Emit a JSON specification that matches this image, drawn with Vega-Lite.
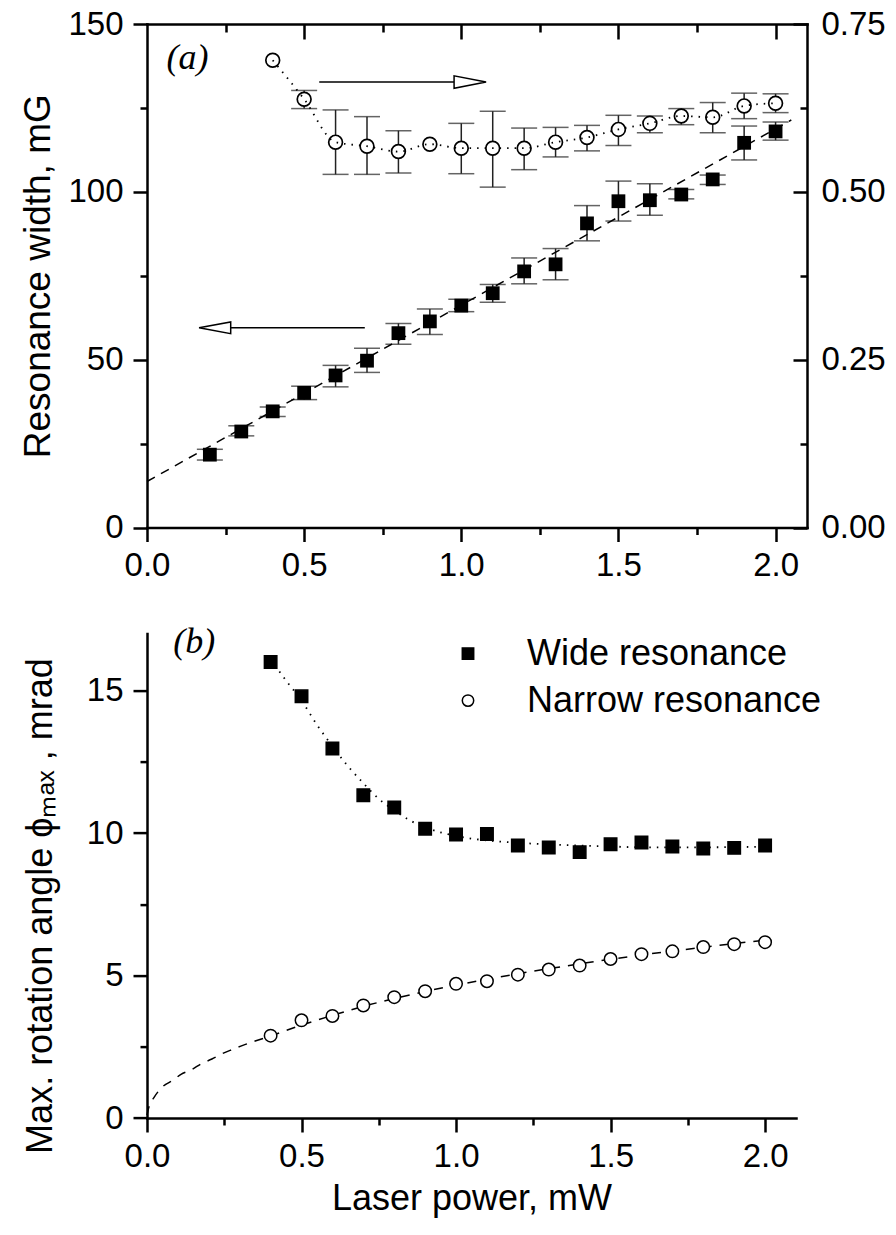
{
  "$schema": "https://vega.github.io/schema/vega-lite/v6.json",
  "padding": {"left": 19, "top": 8, "right": 5, "bottom": 5},
  "bounds": "flush",
  "spacing": 105.6,
  "resolve": {"scale": {"shape": "independent", "fill": "independent", "stroke": "independent"}, "legend": {"shape": "independent", "fill": "independent", "stroke": "independent"}},
  "config": {
    "font": "Liberation Sans",
    "view": {"stroke": null},
    "axis": {
      "grid": false, "domainColor": "black", "domainWidth": 2.5, "domainCap": "square",
      "tickColor": "black", "tickWidth": 2.5,
      "labelFont": "Liberation Sans", "labelFontSize": 33, "labelColor": "black",
      "labelFlush": false, "labelOverlap": false,
      "titleFont": "Liberation Sans", "titleFontSize": 36, "titleFontWeight": "normal", "titleColor": "black"
    }
  },
  "datasets": {
    "wide": [
      {"x": 0.2, "y": 21.7, "lo": 20.1, "hi": 23.3},
      {"x": 0.3, "y": 28.6, "lo": 27.3, "hi": 30.3},
      {"x": 0.4, "y": 34.6, "lo": 33.1, "hi": 35.9},
      {"x": 0.5, "y": 40.1, "lo": 38.1, "hi": 42.1},
      {"x": 0.6, "y": 45.3, "lo": 41.9, "hi": 48.3},
      {"x": 0.7, "y": 49.7, "lo": 46.2, "hi": 53.4},
      {"x": 0.8, "y": 57.9, "lo": 54.6, "hi": 60.8},
      {"x": 0.9, "y": 61.4, "lo": 57.5, "hi": 65.1},
      {"x": 1.0, "y": 66.1, "lo": 64.3, "hi": 68.0},
      {"x": 1.1, "y": 69.8, "lo": 67.1, "hi": 72.4},
      {"x": 1.2, "y": 76.3, "lo": 72.6, "hi": 80.3},
      {"x": 1.3, "y": 78.4, "lo": 73.8, "hi": 83.1},
      {"x": 1.4, "y": 90.6, "lo": 85.4, "hi": 95.9},
      {"x": 1.5, "y": 97.2, "lo": 91.3, "hi": 103.2},
      {"x": 1.6, "y": 97.5, "lo": 93.0, "hi": 102.4},
      {"x": 1.7, "y": 99.2, "lo": 97.9, "hi": 100.7},
      {"x": 1.8, "y": 103.7, "lo": 102.2, "hi": 105.0},
      {"x": 1.9, "y": 114.6, "lo": 109.5, "hi": 119.6},
      {"x": 2.0, "y": 118.0, "lo": 115.4, "hi": 120.8}
    ],
    "narrow": [
      {"x": 0.4, "y": 0.696, "lo": null, "hi": null},
      {"x": 0.5, "y": 0.638, "lo": 0.624, "hi": 0.651},
      {"x": 0.6, "y": 0.574, "lo": 0.526, "hi": 0.622},
      {"x": 0.7, "y": 0.568, "lo": 0.526, "hi": 0.612},
      {"x": 0.8, "y": 0.560, "lo": 0.528, "hi": 0.591},
      {"x": 0.9, "y": 0.571, "lo": null, "hi": null},
      {"x": 1.0, "y": 0.565, "lo": 0.527, "hi": 0.602},
      {"x": 1.1, "y": 0.565, "lo": 0.507, "hi": 0.620},
      {"x": 1.2, "y": 0.565, "lo": 0.533, "hi": 0.595},
      {"x": 1.3, "y": 0.574, "lo": 0.552, "hi": 0.596},
      {"x": 1.4, "y": 0.581, "lo": 0.561, "hi": 0.599},
      {"x": 1.5, "y": 0.593, "lo": 0.569, "hi": 0.614},
      {"x": 1.6, "y": 0.602, "lo": 0.588, "hi": 0.613},
      {"x": 1.7, "y": 0.613, "lo": 0.600, "hi": 0.624},
      {"x": 1.8, "y": 0.611, "lo": 0.588, "hi": 0.633},
      {"x": 1.9, "y": 0.628, "lo": 0.609, "hi": 0.647},
      {"x": 2.0, "y": 0.632, "lo": 0.618, "hi": 0.646}
    ],
    "fitA": [{"x": 0, "y": 13.7}, {"x": 2.05, "y": 121.4}],
    "arrows": [
      {"x": 0.548, "x2": 0.977, "y": 132.7},
      {"x": 0.266, "x2": 0.693, "y": 59.5}
    ],
    "headR": [{"x": 1.028, "y": 132.7}],
    "headL": [{"x": 0.216, "y": 59.5}],
    "labA": [{"x": 0.129, "y": 140, "t": "(a)"}],
    "labB": [{"x": 0.153, "y": 16.69, "t": "(b)"}],
    "pts2": [
      {"x": 0.4, "y": 16.0, "series": "Wide resonance"},
      {"x": 0.5, "y": 14.8, "series": "Wide resonance"},
      {"x": 0.6, "y": 12.97, "series": "Wide resonance"},
      {"x": 0.7, "y": 11.33, "series": "Wide resonance"},
      {"x": 0.8, "y": 10.9, "series": "Wide resonance"},
      {"x": 0.9, "y": 10.15, "series": "Wide resonance"},
      {"x": 1.0, "y": 9.95, "series": "Wide resonance"},
      {"x": 1.1, "y": 9.97, "series": "Wide resonance"},
      {"x": 1.2, "y": 9.56, "series": "Wide resonance"},
      {"x": 1.3, "y": 9.49, "series": "Wide resonance"},
      {"x": 1.4, "y": 9.33, "series": "Wide resonance"},
      {"x": 1.5, "y": 9.61, "series": "Wide resonance"},
      {"x": 1.6, "y": 9.67, "series": "Wide resonance"},
      {"x": 1.7, "y": 9.53, "series": "Wide resonance"},
      {"x": 1.8, "y": 9.46, "series": "Wide resonance"},
      {"x": 1.9, "y": 9.48, "series": "Wide resonance"},
      {"x": 2.0, "y": 9.56, "series": "Wide resonance"},
      {"x": 0.4, "y": 2.89, "series": "Narrow resonance"},
      {"x": 0.5, "y": 3.43, "series": "Narrow resonance"},
      {"x": 0.6, "y": 3.58, "series": "Narrow resonance"},
      {"x": 0.7, "y": 3.95, "series": "Narrow resonance"},
      {"x": 0.8, "y": 4.24, "series": "Narrow resonance"},
      {"x": 0.9, "y": 4.45, "series": "Narrow resonance"},
      {"x": 1.0, "y": 4.71, "series": "Narrow resonance"},
      {"x": 1.1, "y": 4.80, "series": "Narrow resonance"},
      {"x": 1.2, "y": 5.03, "series": "Narrow resonance"},
      {"x": 1.3, "y": 5.21, "series": "Narrow resonance"},
      {"x": 1.4, "y": 5.35, "series": "Narrow resonance"},
      {"x": 1.5, "y": 5.58, "series": "Narrow resonance"},
      {"x": 1.6, "y": 5.75, "series": "Narrow resonance"},
      {"x": 1.7, "y": 5.85, "series": "Narrow resonance"},
      {"x": 1.8, "y": 6.0, "series": "Narrow resonance"},
      {"x": 1.9, "y": 6.1, "series": "Narrow resonance"},
      {"x": 2.0, "y": 6.17, "series": "Narrow resonance"}
    ],
    "fitBwide": [
      {"x": 0.4, "y": 16.1}, {"x": 0.45, "y": 15.35}, {"x": 0.5, "y": 14.65}, {"x": 0.55, "y": 13.8},
      {"x": 0.6, "y": 13.05}, {"x": 0.65, "y": 12.35}, {"x": 0.7, "y": 11.75}, {"x": 0.75, "y": 11.2},
      {"x": 0.8, "y": 10.8}, {"x": 0.85, "y": 10.45}, {"x": 0.9, "y": 10.2}, {"x": 1.0, "y": 9.9},
      {"x": 1.1, "y": 9.74}, {"x": 1.2, "y": 9.66}, {"x": 1.3, "y": 9.6}, {"x": 1.4, "y": 9.56},
      {"x": 1.5, "y": 9.53}, {"x": 1.6, "y": 9.5}, {"x": 1.8, "y": 9.5}, {"x": 2.0, "y": 9.52}
    ],
    "fitBnarrow": [
      {"x": 0.0, "y": 0.1}, {"x": 0.005, "y": 0.34}, {"x": 0.024, "y": 0.74}, {"x": 0.05, "y": 1.09},
      {"x": 0.083, "y": 1.32}, {"x": 0.11, "y": 1.53}, {"x": 0.145, "y": 1.7}, {"x": 0.175, "y": 1.9},
      {"x": 0.21, "y": 2.07}, {"x": 0.24, "y": 2.24}, {"x": 0.28, "y": 2.42}, {"x": 0.31, "y": 2.55},
      {"x": 0.35, "y": 2.7}, {"x": 0.4, "y": 2.88}, {"x": 0.5, "y": 3.26}, {"x": 0.6, "y": 3.6},
      {"x": 0.7, "y": 3.92}, {"x": 0.8, "y": 4.19}, {"x": 0.9, "y": 4.44}, {"x": 1.0, "y": 4.66},
      {"x": 1.1, "y": 4.87}, {"x": 1.2, "y": 5.06}, {"x": 1.3, "y": 5.24}, {"x": 1.4, "y": 5.41},
      {"x": 1.5, "y": 5.57}, {"x": 1.6, "y": 5.72}, {"x": 1.7, "y": 5.86}, {"x": 1.8, "y": 5.99},
      {"x": 1.9, "y": 6.12}, {"x": 2.0, "y": 6.24}
    ]
  },
  "vconcat": [
    {
      "width": 660,
      "height": 503.5,
      "resolve": {"scale": {"y": "independent"}, "axis": {"x": "independent", "y": "independent"}},
      "layer": [
        {
          "data": {"name": "wide"},
          "mark": {"type": "rule", "color": "#222", "strokeWidth": 1.5},
          "encoding": {
            "x": {"field": "x", "type": "quantitative", "scale": {"domain": [0, 2.1], "nice": false, "zero": false},
                  "axis": {"orient": "bottom", "values": [0, 0.5, 1, 1.5, 2], "format": ".1f", "tickSize": 14, "labelPadding": 8, "title": null}},
            "y": {"field": "lo", "type": "quantitative", "scale": {"domain": [0, 150], "nice": false, "zero": false},
                  "axis": {"orient": "left", "values": [0, 50, 100, 150], "tickSize": 14, "labelPadding": 10, "title": "Resonance width, mG", "titlePadding": 10, "titleFontSize": 37}},
            "y2": {"field": "hi"}
          }
        },
        {
          "data": {"name": "wide"},
          "mark": {"type": "tick", "orient": "horizontal", "size": 26, "thickness": 1.5, "color": "#222"},
          "encoding": {
            "x": {"field": "x", "type": "quantitative", "scale": {"domain": [0, 2.1], "nice": false, "zero": false},
                  "axis": {"orient": "bottom", "values": [0.25, 0.75, 1.25, 1.75], "tickSize": 7, "labels": false, "domain": false, "title": null}},
            "y": {"field": "lo", "type": "quantitative", "scale": {"domain": [0, 150], "nice": false, "zero": false},
                  "axis": {"orient": "left", "values": [25, 75, 125], "tickSize": 7, "labels": false, "domain": false, "title": null}}
          }
        },
        {
          "data": {"name": "wide"},
          "mark": {"type": "tick", "orient": "horizontal", "size": 26, "thickness": 1.5, "color": "#222"},
          "encoding": {
            "x": {"field": "x", "type": "quantitative", "scale": {"domain": [0, 2.1], "nice": false, "zero": false},
                  "axis": {"orient": "top", "values": [0.5, 1, 1.5, 2], "tickSize": -15, "labels": false, "domain": true, "title": null}},
            "y": {"field": "hi", "type": "quantitative", "scale": {"domain": [0, 150], "nice": false, "zero": false}, "axis": null}
          }
        },
        {
          "data": {"name": "narrow"},
          "transform": [{"filter": "datum.lo != null"}],
          "mark": {"type": "rule", "color": "#222", "strokeWidth": 1.5},
          "encoding": {
            "x": {"field": "x", "type": "quantitative", "scale": {"domain": [0, 2.1], "nice": false, "zero": false},
                  "axis": {"orient": "top", "values": [0.25, 0.75, 1.25, 1.75], "tickSize": -8, "labels": false, "domain": false, "title": null}},
            "y": {"field": "lo", "type": "quantitative", "scale": {"domain": [0, 0.75], "nice": false, "zero": false},
                  "axis": {"orient": "right", "values": [0, 0.25, 0.5, 0.75], "format": ".2f", "tickSize": -14, "labelPadding": 28, "title": null}},
            "y2": {"field": "hi"}
          }
        },
        {
          "data": {"name": "narrow"},
          "transform": [{"filter": "datum.lo != null"}],
          "mark": {"type": "tick", "orient": "horizontal", "size": 26, "thickness": 1.5, "color": "#222"},
          "encoding": {
            "x": {"field": "x", "type": "quantitative", "scale": {"domain": [0, 2.1], "nice": false, "zero": false}, "axis": null},
            "y": {"field": "lo", "type": "quantitative", "scale": {"domain": [0, 0.75], "nice": false, "zero": false},
                  "axis": {"orient": "right", "values": [0.125, 0.375, 0.625], "tickSize": -7, "labels": false, "domain": false, "title": null}}
          }
        },
        {
          "data": {"name": "narrow"},
          "transform": [{"filter": "datum.hi != null"}],
          "mark": {"type": "tick", "orient": "horizontal", "size": 26, "thickness": 1.5, "color": "#222"},
          "encoding": {
            "x": {"field": "x", "type": "quantitative", "scale": {"domain": [0, 2.1], "nice": false, "zero": false}, "axis": null},
            "y": {"field": "hi", "type": "quantitative", "scale": {"domain": [0, 0.75], "nice": false, "zero": false}, "axis": null}
          }
        },
        {
          "data": {"name": "fitA"},
          "mark": {"type": "line", "color": "black", "strokeWidth": 1.5, "strokeDash": [9, 7]},
          "encoding": {
            "x": {"field": "x", "type": "quantitative", "scale": {"domain": [0, 2.1], "nice": false, "zero": false}, "axis": null},
            "y": {"field": "y", "type": "quantitative", "scale": {"domain": [0, 150], "nice": false, "zero": false}, "axis": null}
          }
        },
        {
          "data": {"name": "wide"},
          "mark": {"type": "square", "color": "black", "size": 190, "opacity": 1},
          "encoding": {
            "x": {"field": "x", "type": "quantitative", "scale": {"domain": [0, 2.1], "nice": false, "zero": false}, "axis": null},
            "y": {"field": "y", "type": "quantitative", "scale": {"domain": [0, 150], "nice": false, "zero": false}, "axis": null}
          }
        },
        {
          "data": {"name": "narrow"},
          "mark": {"type": "point", "shape": "circle", "filled": true, "fill": "white", "stroke": "black", "strokeWidth": 1.7, "size": 190, "opacity": 1},
          "encoding": {
            "x": {"field": "x", "type": "quantitative", "scale": {"domain": [0, 2.1], "nice": false, "zero": false}, "axis": null},
            "y": {"field": "y", "type": "quantitative", "scale": {"domain": [0, 0.75], "nice": false, "zero": false}, "axis": null}
          }
        },
        {
          "data": {"name": "narrow"},
          "mark": {"type": "line", "color": "black", "strokeWidth": 1.8, "strokeDash": [1.5, 6], "interpolate": "monotone"},
          "encoding": {
            "x": {"field": "x", "type": "quantitative", "scale": {"domain": [0, 2.1], "nice": false, "zero": false}, "axis": null},
            "y": {"field": "y", "type": "quantitative", "scale": {"domain": [0, 0.75], "nice": false, "zero": false}, "axis": null}
          }
        },
        {
          "data": {"name": "arrows"},
          "mark": {"type": "rule", "color": "black", "strokeWidth": 1.6},
          "encoding": {
            "x": {"field": "x", "type": "quantitative", "scale": {"domain": [0, 2.1], "nice": false, "zero": false}, "axis": null},
            "x2": {"field": "x2"},
            "y": {"field": "y", "type": "quantitative", "scale": {"domain": [0, 150], "nice": false, "zero": false}, "axis": null}
          }
        },
        {
          "data": {"name": "headR"},
          "mark": {"type": "point", "shape": "M1,0L-1,-0.39L-1,0.39Z", "filled": true, "fill": "white", "stroke": "black", "strokeWidth": 1.5, "size": 1024, "opacity": 1},
          "encoding": {
            "x": {"field": "x", "type": "quantitative", "scale": {"domain": [0, 2.1], "nice": false, "zero": false}, "axis": null},
            "y": {"field": "y", "type": "quantitative", "scale": {"domain": [0, 150], "nice": false, "zero": false}, "axis": null}
          }
        },
        {
          "data": {"name": "headL"},
          "mark": {"type": "point", "shape": "M-1,0L1,-0.37L1,0.37Z", "filled": true, "fill": "white", "stroke": "black", "strokeWidth": 1.5, "size": 1000, "opacity": 1},
          "encoding": {
            "x": {"field": "x", "type": "quantitative", "scale": {"domain": [0, 2.1], "nice": false, "zero": false}, "axis": null},
            "y": {"field": "y", "type": "quantitative", "scale": {"domain": [0, 150], "nice": false, "zero": false}, "axis": null}
          }
        },
        {
          "data": {"name": "labA"},
          "mark": {"type": "text", "font": "Liberation Serif", "fontStyle": "italic", "fontSize": 36, "color": "black", "align": "center", "baseline": "middle"},
          "encoding": {
            "x": {"field": "x", "type": "quantitative", "scale": {"domain": [0, 2.1], "nice": false, "zero": false}, "axis": null},
            "y": {"field": "y", "type": "quantitative", "scale": {"domain": [0, 150], "nice": false, "zero": false}, "axis": null},
            "text": {"field": "t"}
          }
        }
      ]
    },
    {
      "width": 649,
      "height": 484.4,
      "resolve": {"axis": {"x": "independent", "y": "independent"}},
      "layer": [
        {
          "data": {"name": "fitBwide"},
          "mark": {"type": "line", "color": "black", "strokeWidth": 1.8, "strokeDash": [1.5, 6], "interpolate": "monotone"},
          "encoding": {
            "x": {"field": "x", "type": "quantitative", "scale": {"domain": [0, 2.1], "nice": false, "zero": false},
                  "axis": {"orient": "bottom", "values": [0, 0.5, 1, 1.5, 2], "format": ".1f", "tickSize": 14, "labelPadding": 8, "title": "Laser power, mW", "titlePadding": 8}},
            "y": {"field": "y", "type": "quantitative", "scale": {"domain": [0, 17], "nice": false, "zero": false},
                  "axis": {"orient": "left", "values": [0, 5, 10, 15], "tickSize": 14, "labelPadding": 10, "title": "Max. rotation angle ϕₘₐₓ , mrad", "titlePadding": 27, "titleY": 272}}
          }
        },
        {
          "data": {"name": "fitBnarrow"},
          "mark": {"type": "line", "color": "black", "strokeWidth": 1.5, "strokeDash": [9, 8], "interpolate": "monotone"},
          "encoding": {
            "x": {"field": "x", "type": "quantitative", "scale": {"domain": [0, 2.1], "nice": false, "zero": false},
                  "axis": {"orient": "bottom", "values": [0.25, 0.75, 1.25, 1.75], "tickSize": 7, "labels": false, "domain": false, "title": null}},
            "y": {"field": "y", "type": "quantitative", "scale": {"domain": [0, 17], "nice": false, "zero": false},
                  "axis": {"orient": "left", "values": [2.5, 7.5, 12.5], "tickSize": 7, "labels": false, "domain": false, "title": null}}
          }
        },
        {
          "data": {"name": "pts2"},
          "mark": {"type": "point", "filled": true, "strokeWidth": 1.5, "size": 155, "opacity": 1},
          "encoding": {
            "x": {"field": "x", "type": "quantitative", "scale": {"domain": [0, 2.1], "nice": false, "zero": false}, "axis": null},
            "y": {"field": "y", "type": "quantitative", "scale": {"domain": [0, 17], "nice": false, "zero": false}, "axis": null},
            "shape": {"field": "series", "type": "nominal", "scale": {"domain": ["Wide resonance", "Narrow resonance"], "range": ["square", "circle"]},
                      "legend": {"title": null, "orient": "none", "legendX": 303, "legendY": 2, "padding": 0, "labelFont": "Liberation Sans", "labelFontSize": 36, "labelColor": "black", "labelLimit": 0, "symbolSize": 130, "symbolStrokeWidth": 1.5, "labelOffset": 41, "rowPadding": 11}},
            "fill": {"field": "series", "type": "nominal", "scale": {"domain": ["Wide resonance", "Narrow resonance"], "range": ["black", "white"]},
                     "legend": {"title": null, "orient": "none", "legendX": 303, "legendY": 2, "padding": 0, "labelFont": "Liberation Sans", "labelFontSize": 36, "labelColor": "black", "labelLimit": 0, "symbolSize": 130, "symbolStrokeWidth": 1.5, "labelOffset": 41, "rowPadding": 11}},
            "stroke": {"field": "series", "type": "nominal", "scale": {"domain": ["Wide resonance", "Narrow resonance"], "range": ["black", "black"]},
                     "legend": {"title": null, "orient": "none", "legendX": 303, "legendY": 2, "padding": 0, "labelFont": "Liberation Sans", "labelFontSize": 36, "labelColor": "black", "labelLimit": 0, "symbolSize": 130, "symbolStrokeWidth": 1.5, "labelOffset": 41, "rowPadding": 11}}
          }
        },
        {
          "data": {"name": "labB"},
          "mark": {"type": "text", "font": "Liberation Serif", "fontStyle": "italic", "fontSize": 36, "color": "black", "align": "center", "baseline": "middle"},
          "encoding": {
            "x": {"field": "x", "type": "quantitative", "scale": {"domain": [0, 2.1], "nice": false, "zero": false}, "axis": null},
            "y": {"field": "y", "type": "quantitative", "scale": {"domain": [0, 17], "nice": false, "zero": false}, "axis": null},
            "text": {"field": "t"}
          }
        }
      ]
    }
  ]
}
